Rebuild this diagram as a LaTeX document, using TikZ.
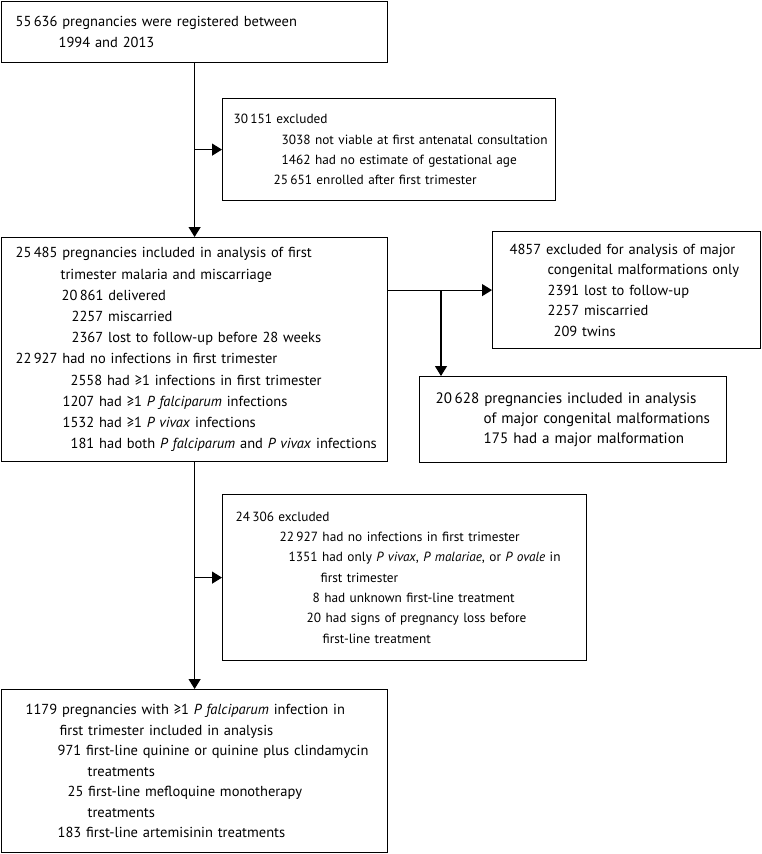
\documentclass[tikz,border=0pt]{standalone}
\usepackage{fontspec}
\setmainfont{PT Sans}
\usetikzlibrary{arrows.meta,positioning}

% one line of a box, indented by #1 pt
\newcommand{\entry}[2]{\hspace*{#1pt}\mbox{#2}}

\begin{document}
\begin{tikzpicture}[x=1pt,y=-1pt,
		box/.style={draw, line width=1.2pt, anchor=north west, align=left, inner ysep=0pt,
			font=\fontsize{14.5}{20.5}\selectfont},
		sidebox/.style={box, font=\fontsize{13.3}{20.3}\selectfont},
		link/.style={line width=1.2pt},
		arrow/.style={link, -{Triangle[length=10pt,width=12pt]}}]
	\useasboundingbox (0,0) rectangle (761,854);

	\node[box, minimum width=386pt, minimum height=61pt, text width=358pt, inner xsep=14pt] (registered) at (1,1) {
		\entry{0}{55\,636 pregnancies were registered between}\\
		\entry{43}{1994 and 2013}};
	\node[sidebox, minimum width=333pt, minimum height=102pt, text width=311pt, inner xsep=11pt] (excluded) at (222,98) {
		\entry{0}{30\,151 excluded}\\
		\entry{48}{3038 not viable at first antenatal consultation}\\
		\entry{48}{1462 had no estimate of gestational age}\\
		\entry{40}{25\,651 enrolled after first trimester}};
	\node[box, minimum width=386pt, minimum height=224pt, text width=358pt, inner xsep=14pt,
		font=\fontsize{14.5}{21.2}\selectfont] (included) at (1,237) {
		\entry{0}{25\,485 pregnancies included in analysis of first}\\
		\entry{45}{trimester malaria and miscarriage}\\
		\entry{46}{20\,861 delivered}\\
		\entry{56}{2257 miscarried}\\
		\entry{56}{2367 lost to follow-up before 28 weeks}\\
		\entry{0}{22\,927 had no infections in first trimester}\\
		\entry{55}{2558 had ≥1 infections in first trimester}\\
		\entry{47}{1207 had ≥1 \textit{P falciparum} infections}\\
		\entry{47}{1532 had ≥1 \textit{P vivax} infections}\\
		\entry{55}{181 had both \textit{P falciparum} and \textit{P vivax} infections}};
	\node[box, minimum width=268pt, minimum height=117pt, text width=234pt, inner xsep=17pt] (malfexcl) at (492,231) {
		\entry{0}{4857 excluded for analysis of major}\\
		\entry{38}{congenital malformations only}\\
		\entry{38}{2391 lost to follow-up}\\
		\entry{38}{2257 miscarried}\\
		\entry{44}{209 twins}};
	\node[box, minimum width=307pt, minimum height=86pt, text width=275pt, inner xsep=16pt,
		font=\fontsize{15.1}{20}\selectfont] (malfincl) at (419,376) {
		\entry{0}{20\,628 pregnancies included in analysis}\\
		\entry{48}{of major congenital malformations}\\
		\entry{48}{175 had a major malformation}};
	\node[sidebox, minimum width=364pt, minimum height=166pt, text width=338pt, inner xsep=13pt] (txexcl) at (222,494) {
		\entry{0}{24\,306 excluded}\\
		\entry{44}{22\,927 had no infections in first trimester}\\
		\entry{53}{1351 had only \textit{P vivax}, \textit{P malariae}, or \textit{P ovale} in}\\
		\entry{85}{first trimester}\\
		\entry{77}{8 had unknown first-line treatment}\\
		\entry{71}{20 had signs of pregnancy loss before}\\
		\entry{87}{first-line treatment}};
	\node[box, minimum width=386pt, minimum height=163pt, text width=338pt, inner xsep=24pt] (treated) at (1,689) {
		\entry{0}{1179 pregnancies with ≥1 \textit{P falciparum} infection in}\\
		\entry{34}{first trimester included in analysis}\\
		\entry{32}{971 first-line quinine or quinine plus clindamycin}\\
		\entry{62}{treatments}\\
		\entry{42}{25 first-line mefloquine monotherapy}\\
		\entry{62}{treatments}\\
		\entry{32}{183 first-line artemisinin treatments}};

	% main column
	\draw[arrow] (registered) -- (included);
	\draw[arrow] (included) -- (treated);
	\draw[arrow] (registered.south |- excluded.west) -- (excluded.west);
	\draw[arrow] (included.south |- txexcl.west) -- (txexcl.west);

	% malformation branch
	\draw[arrow] (included.east |- malfexcl.west) -- (malfexcl.west);
	\coordinate (split) at (441,0 |- malfexcl.west);
	\draw[arrow] (split) -- (split |- malfincl.north);
\end{tikzpicture}
\end{document}
